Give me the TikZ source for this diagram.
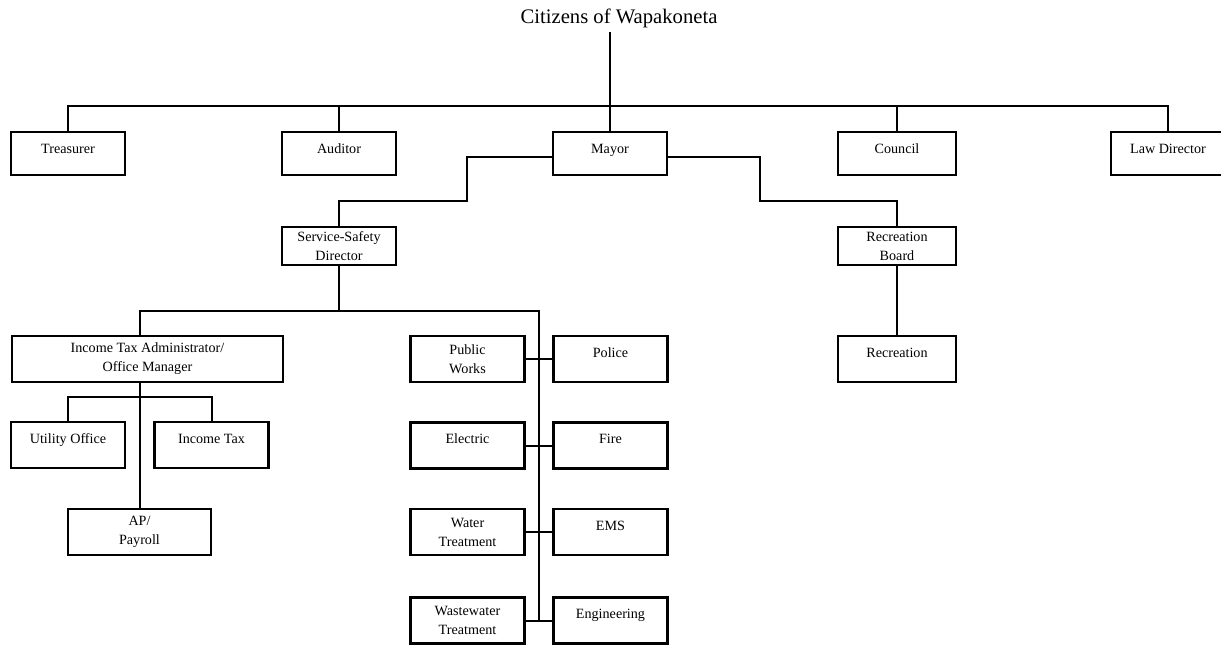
\documentclass[tikz,border=0pt]{standalone}
\usepackage{fontspec}
\setmainfont{Liberation Serif}

\begin{document}
\begin{tikzpicture}[x=0.75pt,y=-0.75pt,
                    unit/.style={draw=black,line width=1.6pt,inner sep=0pt,align=center,minimum width=85.5pt,font=\fontsize{10.6}{14.25}\selectfont},
                    solo/.style={text height=16.1pt,text depth=#1},
                    solo/.default=18.4pt,
                    duo/.style={minimum height=34.5pt},
                    link/.style={line width=1.5pt}
                ]
    \useasboundingbox (0,0) rectangle (1221,644);

    \node[font=\fontsize{15.5}{18}\selectfont,anchor=base] (cit) at (619,23) {Citizens of Wapakoneta};

    % elected offices
    \node[unit,solo=16.1pt] (tre) at (68,153.5) {Treasurer};
    \node[unit,solo=16.1pt] (aud) at (339,153.5) {Auditor};
    \node[unit,solo=16.1pt] (may) at (610,153.5) {Mayor};
    \node[unit,solo=16.1pt,minimum width=89pt] (cou) at (897,153.5) {Council};
    \node[unit,solo=16.1pt] (law) at (1168,153.5) {Law Director};

    \coordinate (bus) at (610,106);
    \draw[link] (may.north) -- (may.north |- cit.south);
    \draw[link] (tre.north) |- (bus) -| (law.north);
    \draw[link] (aud.north) -- (aud.north |- bus);
    \draw[link] (cou.north) -- (cou.north |- bus);

    % under the mayor
    \node[unit,minimum height=28.5pt] (ssd) at (339,246) {Service-Safety\\Director};
    \node[unit,minimum height=28.5pt,minimum width=89pt] (rcb) at (897,246) {Recreation\\Board};
    \node[unit,solo,minimum width=89pt] (rec) at (897,359) {Recreation};

    \coordinate (ml) at (467,201);
    \coordinate (mr) at (760,201);
    \draw[link] ([yshift=-2.6pt]may.west) -| (ml) -| (ssd.north);
    \draw[link] ([yshift=-2.6pt]may.east) -| (mr) -| (rcb.north);
    \draw[link] (rcb) -- (rec);

    % office side
    \node[unit,duo,minimum width=203.25pt] (ita) at (147.5,359) {Income Tax Administrator/\\Office Manager};
    \node[unit,solo] (uti) at (68,445) {Utility Office};
    \node[unit,solo] (itx) at (211.5,445) {Income Tax};
    \node[unit,duo,minimum width=107.25pt] (app) at (139.5,532) {AP/\\Payroll};

    \coordinate (lb) at (140,311);
    \coordinate (rb) at (539,311);
    \coordinate (sb) at (140,397);
    \draw[link] (ssd.south) |- (lb) -- (lb |- ita.north);
    \draw[link] (lb |- ita.south) -- (lb |- app.north);
    \draw[link] (uti.north) |- (sb) -| (itx.north);

    % departments
    \foreach \i/\lt/\ls/\rt/\y in {1/{Public\\Works}/duo/Police/359,
                                   2/Electric/solo/Fire/445.5,
                                   3/{Water\\Treatment}/duo/EMS/532,
                                   4/{Wastewater\\Treatment}/duo/Engineering/620.5}
        {
        \node[unit,\ls] (dep\i) at (467.5,\y) {\lt};
        \node[unit,solo] (srv\i) at (610.5,\y) {\rt};
        \draw[link] (dep\i) -- (srv\i);
        }
    \draw[link] (ssd.south) |- (rb) -- (rb |- dep4.east);
\end{tikzpicture}
\end{document}
